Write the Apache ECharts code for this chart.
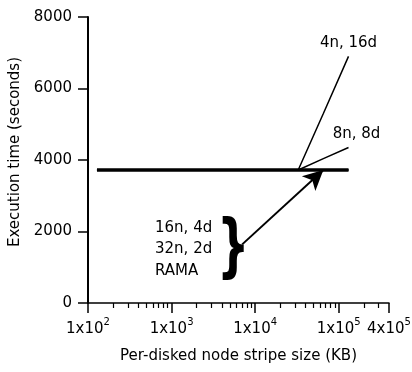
<!DOCTYPE html>
<html>
<head>
<meta charset="utf-8">
<script src="https://cdn.jsdelivr.net/npm/echarts@6/dist/echarts.min.js"></script>
<style>
  html, body { margin: 0; padding: 0; background: #fff; }
  #chart { width: 412px; height: 372px; }
</style>
</head>
<body>
<div id="chart"></div>
<script>
// Stripe sizes (KB), doubling from 128 KB to 128 MB
const stripeSizes = [128, 256, 512, 1024, 2048, 4096, 8192, 16384, 32768, 65536, 131072];

// Execution time (seconds) per configuration
const time16n4d = [3720, 3720, 3720, 3720, 3720, 3720, 3720, 3720, 3720, 3720, 3720];
const time32n2d = [3700, 3700, 3700, 3700, 3700, 3700, 3700, 3700, 3700, 3700, 3700];
const timeRAMA  = [3740, 3740, 3740, 3740, 3740, 3740, 3740, 3740, 3740, 3740, 3740];
const time4n16d = [3720, 3720, 3720, 3720, 3720, 3720, 3720, 3720, 3720, 5300, 6900];
const time8n8d  = [3720, 3720, 3720, 3720, 3720, 3720, 3720, 3720, 3720, 4040, 4350];

// Axis ticks
const yTicks = [0, 2000, 4000, 6000, 8000];
const xMajorTicks = [100, 1000, 10000, 100000, 400000];
const xMinorTicks = [200, 300, 400, 500, 600, 700, 800, 900,
                     2000, 3000, 4000, 5000, 6000, 7000, 8000, 9000,
                     20000, 30000, 40000, 50000, 60000, 70000, 80000, 90000,
                     200000, 300000];

// Arrow from the grouped labels to the shared curve
const arrowFrom = [7000, 1640];
const arrowTo = [65536, 3720];

const FONT = 'DejaVu Sans';

function pairs(ys) { return stripeSizes.map((x, i) => [x, ys[i]]); }

function sciLabel(v) {
  const e = Math.floor(Math.log10(v) + 1e-9);
  const m = Math.round(v / Math.pow(10, e));
  return '{b|' + m + 'x10}{s|' + e + '}';
}

// Put a text label on the last point of a series only
function withEndLabel(ys, text, offset) {
  return pairs(ys).map((p, i, a) => i === a.length - 1
    ? { value: p, label: { show: true, position: 'top', distance: 6, offset: offset,
          formatter: text, fontFamily: FONT, fontSize: 15, color: '#000' } }
    : p);
}

const chart = echarts.init(document.getElementById('chart'), null, { renderer: 'canvas' });

const baseLine = { color: '#000', width: 2 };

chart.setOption({
  animation: false,
  backgroundColor: '#fff',
  textStyle: { fontFamily: FONT, color: '#000' },
  grid: { left: 88, right: 23, top: 17, bottom: 69, containLabel: false, outerBoundsMode: 'none' },
  xAxis: [
    {
      type: 'log',
      min: 100,
      max: 400000,
      logBase: 10,
      name: 'Per-disked node stripe size (KB)',
      nameLocation: 'middle',
      nameGap: 46,
      nameTextStyle: { fontFamily: FONT, fontSize: 15, color: '#000' },
      axisLine: { show: true, lineStyle: { color: '#000', width: 1.5 } },
      axisTick: { show: true, inside: false, length: 10, customValues: xMajorTicks,
                  lineStyle: { color: '#000', width: 1.5 } },
      axisLabel: {
        customValues: xMajorTicks,
        margin: 14,
        hideOverlap: false,
        formatter: v => sciLabel(v),
        rich: {
          b: { fontFamily: FONT, fontSize: 15, color: '#000', lineHeight: 20, verticalAlign: 'bottom' },
          s: { fontFamily: FONT, fontSize: 10, color: '#000', verticalAlign: 'top' }
        }
      },
      splitLine: { show: false },
      minorTick: { show: false }
    },
    {
      type: 'log',
      min: 100,
      max: 400000,
      logBase: 10,
      position: 'bottom',
      axisLine: { show: false },
      axisTick: { show: true, inside: false, length: 5, customValues: xMinorTicks,
                  lineStyle: { color: '#000', width: 1.2 } },
      axisLabel: { show: false },
      splitLine: { show: false }
    }
  ],
  yAxis: {
    type: 'value',
    min: 0,
    max: 8000,
    interval: 2000,
    name: 'Execution time (seconds)',
    nameLocation: 'middle',
    nameGap: 60,
    nameTextStyle: { fontFamily: FONT, fontSize: 15, color: '#000', padding: [0, 0, 0, 16] },
    axisLine: { show: true, lineStyle: { color: '#000', width: 2 } },
    axisTick: { show: true, inside: false, length: 10, lineStyle: { color: '#000', width: 1.5 } },
    axisLabel: { margin: 16, fontFamily: FONT, fontSize: 15, color: '#000',
                 customValues: yTicks, formatter: v => String(v) },
    splitLine: { show: false }
  },
  series: [
    {
      name: '16n, 4d', type: 'line', xAxisIndex: 0, data: pairs(time16n4d),
      showSymbol: false, symbol: 'none', lineStyle: baseLine, z: 3,
      markLine: {
        silent: true,
        symbol: ['none', 'arrow'],
        symbolSize: [15, 20],
        label: { show: false },
        lineStyle: { color: '#000', width: 2, type: 'solid' },
        data: [[{ coord: arrowFrom }, { coord: arrowTo }]]
      }
    },
    { name: '32n, 2d', type: 'line', xAxisIndex: 0, data: pairs(time32n2d),
      showSymbol: false, symbol: 'none', lineStyle: baseLine, z: 3 },
    { name: 'RAMA', type: 'line', xAxisIndex: 0, data: pairs(timeRAMA),
      showSymbol: false, symbol: 'none', lineStyle: baseLine, z: 3 },
    {
      name: '4n, 16d', type: 'line', xAxisIndex: 0,
      data: withEndLabel(time4n16d, '4n, 16d', [0, 0]),
      showSymbol: true, symbol: 'circle', symbolSize: 0,
      itemStyle: { color: '#000' },
      lineStyle: { color: '#000', width: 1.5 }, z: 2
    },
    {
      name: '8n, 8d', type: 'line', xAxisIndex: 0,
      data: withEndLabel(time8n8d, '8n, 8d', [8, 0]),
      showSymbol: true, symbol: 'circle', symbolSize: 0,
      itemStyle: { color: '#000' },
      lineStyle: { color: '#000', width: 1.5 }, z: 2
    }
  ],
  graphic: [
    {
      type: 'text', left: 155, top: 217,
      style: { text: '16n, 4d\n32n, 2d\nRAMA', fontFamily: FONT, fontSize: 15,
               lineHeight: 21.5, fill: '#000' }
    },
    {
      type: 'text', x: 217, y: 216, scaleX: 0.65,
      style: { text: '}', fontFamily: FONT, fontSize: 70, fontWeight: 'bold', fill: '#000' }
    }
  ]
});
</script>
</body>
</html>
